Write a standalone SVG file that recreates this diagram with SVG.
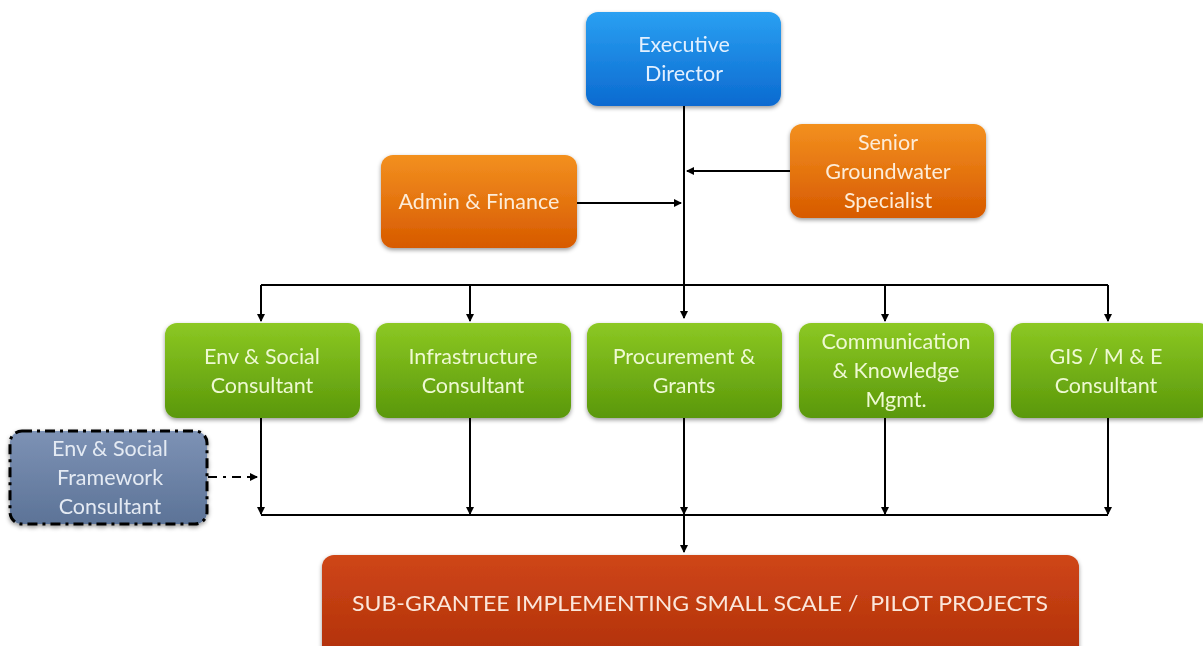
<svg xmlns="http://www.w3.org/2000/svg" width="1203" height="646" viewBox="0 0 1203 646">
<style>
.t{font-family:Lato,"Liberation Sans",sans-serif;font-size:21.5px;text-anchor:middle}
.tb{fill:#e2f0ff}.to{fill:#fdecd8}.tg{fill:#eef9d2}.ts{fill:#e4eaf3}
.ln{stroke:#000;stroke-width:2;fill:none}
</style>
<defs>
<linearGradient id="gb" x1="0" y1="0" x2="0" y2="1"><stop offset="0" stop-color="#2aa0f2"/><stop offset="1" stop-color="#0b6ad0"/></linearGradient>
<linearGradient id="go" x1="0" y1="0" x2="0" y2="1"><stop offset="0" stop-color="#f3901f"/><stop offset="1" stop-color="#d75a00"/></linearGradient>
<linearGradient id="gg" x1="0" y1="0" x2="0" y2="1"><stop offset="0" stop-color="#8cc823"/><stop offset="1" stop-color="#5a980a"/></linearGradient>
<linearGradient id="gs" x1="0" y1="0" x2="0" y2="1"><stop offset="0" stop-color="#7d92b5"/><stop offset="1" stop-color="#5c7397"/></linearGradient>
<linearGradient id="gr" x1="0" y1="0" x2="0" y2="1"><stop offset="0" stop-color="#cf4617"/><stop offset="1" stop-color="#b0300a"/></linearGradient>
<filter id="sh" x="-10%" y="-10%" width="120%" height="130%"><feDropShadow dx="0" dy="2" stdDeviation="2" flood-color="#000" flood-opacity="0.4"/></filter>
<marker id="ah" markerWidth="8" markerHeight="8" refX="7" refY="4" orient="auto" markerUnits="userSpaceOnUse"><path d="M0,0 L8,4 L0,8 Z" fill="#000"/></marker>
</defs>
<g id="connectors">
<path class="ln" d="M684,106 V318" marker-end="url(#ah)"/>
<path class="ln" d="M577,203 H681" marker-end="url(#ah)"/>
<path class="ln" d="M790,171 H687" marker-end="url(#ah)"/>
<path class="ln" d="M261,285 H1108"/>
<path class="ln" d="M261,285 V321" marker-end="url(#ah)"/>
<path class="ln" d="M470,285 V321" marker-end="url(#ah)"/>
<path class="ln" d="M885,285 V321" marker-end="url(#ah)"/>
<path class="ln" d="M1108,285 V321" marker-end="url(#ah)"/>
<path class="ln" d="M261,418 V514" marker-end="url(#ah)"/>
<path class="ln" d="M470,418 V514" marker-end="url(#ah)"/>
<path class="ln" d="M684,418 V514" marker-end="url(#ah)"/>
<path class="ln" d="M885,418 V514" marker-end="url(#ah)"/>
<path class="ln" d="M1108,418 V514" marker-end="url(#ah)"/>
<path class="ln" d="M261,515 H1108"/>
<path class="ln" d="M684,515 V552" marker-end="url(#ah)"/>
<path class="ln" d="M208,477 H257" stroke-width="2.5" stroke-dasharray="9,6,3,6" marker-end="url(#ah)"/>
</g>
<g id="executive-director" filter="url(#sh)"><rect x="586" y="12" width="195" height="94" rx="12" fill="url(#gb)"/>
<text class="t tb" x="684" y="52">Executive</text><text class="t tb" x="684" y="81">Director</text></g>
<g id="admin-finance" filter="url(#sh)"><rect x="381" y="155" width="196" height="93" rx="12" fill="url(#go)"/>
<text class="t to" x="479" y="209">Admin &amp; Finance</text></g>
<g id="senior-groundwater" filter="url(#sh)"><rect x="790" y="124" width="196" height="94" rx="12" fill="url(#go)"/>
<text class="t to" x="888" y="150">Senior</text><text class="t to" x="888" y="179">Groundwater</text><text class="t to" x="888" y="208">Specialist</text></g>
<g id="env-social" filter="url(#sh)"><rect x="165" y="323" width="195" height="95" rx="12" fill="url(#gg)"/>
<text class="t tg" x="262" y="364">Env &amp; Social</text><text class="t tg" x="262" y="393">Consultant</text></g>
<g id="infrastructure" filter="url(#sh)"><rect x="376" y="323" width="195" height="95" rx="12" fill="url(#gg)"/>
<text class="t tg" x="473" y="364">Infrastructure</text><text class="t tg" x="473" y="393">Consultant</text></g>
<g id="procurement" filter="url(#sh)"><rect x="587" y="323" width="195" height="95" rx="12" fill="url(#gg)"/>
<text class="t tg" x="684" y="364">Procurement &amp;</text><text class="t tg" x="684" y="393">Grants</text></g>
<g id="communication" filter="url(#sh)"><rect x="799" y="323" width="195" height="95" rx="12" fill="url(#gg)"/>
<text class="t tg" x="896" y="349">Communication</text><text class="t tg" x="896" y="378">&amp; Knowledge</text><text class="t tg" x="896" y="407">Mgmt.</text></g>
<g id="gis-me" filter="url(#sh)"><rect x="1011" y="323" width="200" height="95" rx="12" fill="url(#gg)"/>
<text class="t tg" x="1106" y="364">GIS / M &amp; E</text><text class="t tg" x="1106" y="393">Consultant</text></g>
<g id="env-social-framework" filter="url(#sh)"><rect x="10" y="431" width="197" height="93" rx="12" fill="url(#gs)" stroke="#000" stroke-width="3" stroke-dasharray="10,5,3,5"/>
<text class="t ts" x="110" y="456">Env &amp; Social</text><text class="t ts" x="110" y="485">Framework</text><text class="t ts" x="110" y="514">Consultant</text></g>
<g id="sub-grantee" filter="url(#sh)"><rect x="322" y="555" width="757" height="105" rx="12" fill="url(#gr)"/>
<text class="t" x="700" y="611" fill="#fbe6da" style="font-size:22px;white-space:pre" textLength="696" lengthAdjust="spacingAndGlyphs">SUB-GRANTEE IMPLEMENTING SMALL SCALE /  PILOT PROJECTS</text></g>
</svg>
